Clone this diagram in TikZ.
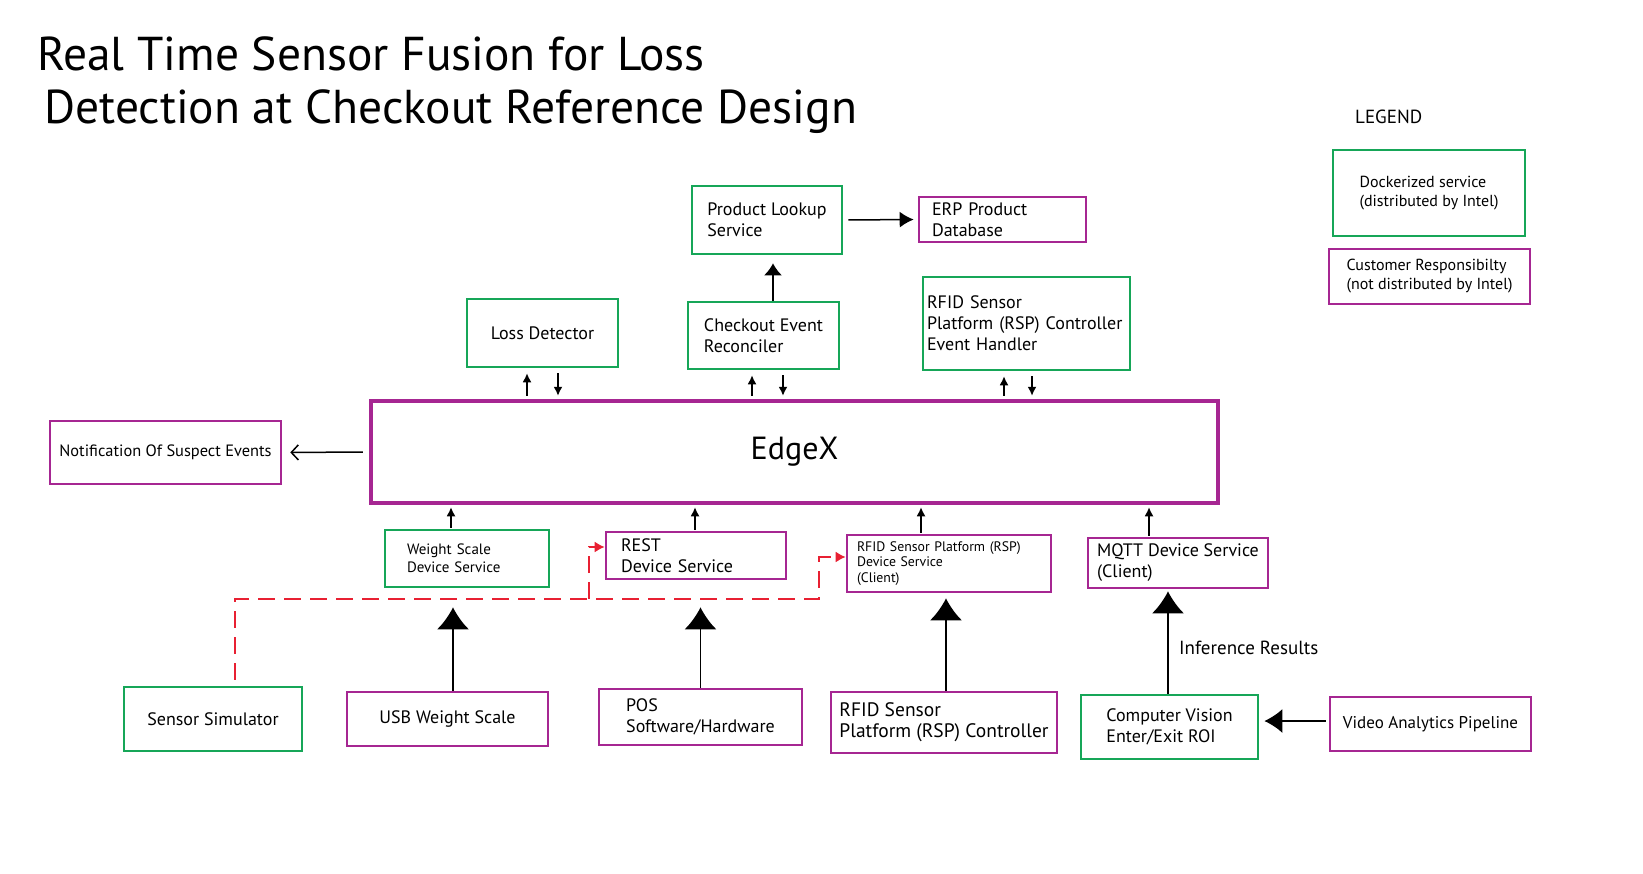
\documentclass[tikz,border=0pt]{standalone}
\usepackage{fontspec}
\setmainfont{PT Sans}
\usetikzlibrary{arrows,arrows.meta}
\usetikzlibrary{positioning}
\tikzset{>=latex}
\definecolor{dockgreen}{RGB}{22,166,88}
\definecolor{custpink}{RGB}{166,38,146}
\definecolor{simred}{RGB}{232,32,50}

\begin{document}
\begin{tikzpicture}[x=1pt,y=-1pt,
	dock/.style={draw=dockgreen,line width=2.6pt,align=left,inner sep=0pt},
	cust/.style={draw=custpink,line width=2.6pt,align=left,inner sep=0pt},
	boxfont/.style={font=\fontsize{18}{21}\selectfont},
	smallfont/.style={font=\fontsize{16}{19}\selectfont},
	tinyfont/.style={font=\fontsize{13.8}{15.5}\selectfont},
	titlefont/.style={font=\fontsize{47.5}{55}\selectfont,anchor=base west,inner sep=0pt},
	feed/.style={line width=1.7pt,-{Latex[length=22pt,width=32pt]}},
	link/.style={line width=1.5pt,-{Latex[length=9pt,width=9pt]}},
	simline/.style={draw=simred,line width=1.8pt,dash pattern=on 17pt off 9pt,-{Latex[length=10pt,width=11pt]}}]
	\useasboundingbox (0,0) rectangle (1643,874);

	% title and legend
	\node[titlefont] (title1) at (37,71) {Real Time Sensor Fusion for Loss};
	\node[titlefont] (title2) at (44,124) {Detection at Checkout Reference Design};
	\node[font=\fontsize{19}{22}\selectfont,anchor=base west,inner sep=0pt] (legend) at (1355,124) {LEGEND};
	\node[dock,smallfont,minimum width=192,minimum height=86] (ldock) at (1429,193) {Dockerized service\\(distributed by Intel)};
	\node[cust,smallfont,minimum width=201,minimum height=55] (lcust) at (1429.5,276.5) {Customer Responsibilty\\(not distributed by Intel)};

	% services above EdgeX
	\node[dock,boxfont,minimum width=150,minimum height=68] (pls) at (767,220) {Product Lookup\\Service};
	\node[cust,boxfont,minimum width=167,minimum height=45,text width=141,inner xsep=13] (erp) at (1002.5,219.5) {ERP Product\\Database};
	\node[dock,boxfont,minimum width=151,minimum height=68] (loss) at (542.5,333) {Loss Detector};
	\node[dock,boxfont,minimum width=151,minimum height=67] (cer) at (763.5,335.5) {Checkout Event\\Reconciler};
	\node[dock,boxfont,minimum width=207,minimum height=93,text width=199,inner xsep=4] (rfh) at (1026.5,323.5) {RFID Sensor\\Platform (RSP) Controller\\Event Handler};

	% EdgeX
	\node[cust,line width=4.5pt,minimum width=847,minimum height=102,font=\fontsize{32}{38}\selectfont] (edgex) at (794.5,452) {EdgeX};
	\node[cust,font=\fontsize{16.4}{19}\selectfont,minimum width=231,minimum height=63] (notif) at (165.5,452.5) {Notification Of Suspect Events};

	% device services
	\node[dock,font=\fontsize{15}{18}\selectfont,minimum width=164,minimum height=57,text width=120,inner xsep=22] (wsds) at (467,558.5) {Weight Scale\\Device Service};
	\node[cust,boxfont,minimum width=180,minimum height=47,text width=150,inner xsep=15] (rest) at (696,555.5) {REST\\Device Service};
	\node[cust,tinyfont,minimum width=204,minimum height=57,text width=184,inner xsep=10] (rfds) at (949,563.5) {RFID Sensor Platform (RSP)\\Device Service\\(Client)};
	\node[cust,boxfont,minimum width=180,minimum height=50] (mqtt) at (1178,563) {MQTT Device Service\\(Client)};

	% devices
	\node[dock,boxfont,minimum width=178,minimum height=64] (sim) at (213,719) {Sensor Simulator};
	\node[cust,boxfont,minimum width=201,minimum height=54] (usb) at (447.5,719) {USB Weight Scale};
	\node[cust,boxfont,minimum width=203,minimum height=56] (pos) at (700.5,717) {POS\\Software/Hardware};
	\node[cust,font=\fontsize{19.5}{21}\selectfont,minimum width=226,minimum height=61] (rfc) at (944,722.5) {RFID Sensor\\Platform (RSP) Controller};
	\node[dock,boxfont,minimum width=177,minimum height=64] (cv) at (1169.5,727) {Computer Vision\\Enter/Exit ROI};
	\node[cust,font=\fontsize{17}{20}\selectfont,minimum width=201,minimum height=54] (vap) at (1430.5,724) {Video Analytics Pipeline};

	% connectors
	\draw[link,-{Latex[length=14pt,width=16pt]},shorten <=5pt,shorten >=4pt] (pls.east) -- (erp.west);
	\coordinate (p) at ([xshift=9.5]cer.north);
	\draw[link,-{Latex[length=12pt,width=18pt]},shorten >=8pt] (p) -- (p |- pls.south);
	\draw[link,-{Straight Barb[length=7pt,width=15pt]},shorten <=6pt,shorten >=8pt] (edgex.west) -- (notif.east);
	\foreach \n/\u/\d in {loss/-15.5/15.5, cer/-11.5/19.5, rfh/-22.5/5.5} {
		\coordinate (p) at ([xshift=\u]\n.south);
		\coordinate (q) at ([xshift=\d]\n.south);
		\draw[link,shorten <=3pt,shorten >=5pt] (p |- edgex.north) -- (p);
		\draw[link,shorten <=5pt,shorten >=3pt] (q) -- (q |- edgex.north);
	}
	\foreach \n/\o in {wsds/-16, rest/-1, rfds/-28, mqtt/-29} {
		\coordinate (p) at ([xshift=\o]\n.north);
		\draw[link,shorten <=1pt,shorten >=2pt] (p) -- (p |- edgex.south);
	}
	\coordinate (p) at ([xshift=5.5]usb.north);
	\draw[feed,shorten >=19pt] (p) -- (p |- wsds.south);
	\draw[feed,shorten >=27pt] (pos.north) -- (pos.north |- rest.south);
	\coordinate (p) at ([xshift=2]rfc.north);
	\draw[feed,shorten >=5pt] (p) -- (p |- rfds.south);
	\coordinate (p) at ([xshift=-1.5]cv.north);
	\draw[feed,shorten >=2pt] (p) -- node[pos=0.44,anchor=west,xshift=7pt,font=\fontsize{19}{22}\selectfont] (inf) {Inference Results} (p |- mqtt.south);
	\coordinate (p) at ([yshift=3]vap.west);
	\draw[feed,-{Latex[length=18pt,width=24pt]},shorten <=3pt,shorten >=5pt] (p) -- (p -| cv.east);

	% simulator feed
	\coordinate (splitA) at (589,599);
	\coordinate (splitB) at (819,599);
	\draw[simline,shorten <=6pt] ([xshift=22]sim.north) |- (splitB) |- ([yshift=6.5]rfds.west);
	\draw[simline] (splitA) |- ([yshift=8.5]rest.west);
\end{tikzpicture}
\end{document}
